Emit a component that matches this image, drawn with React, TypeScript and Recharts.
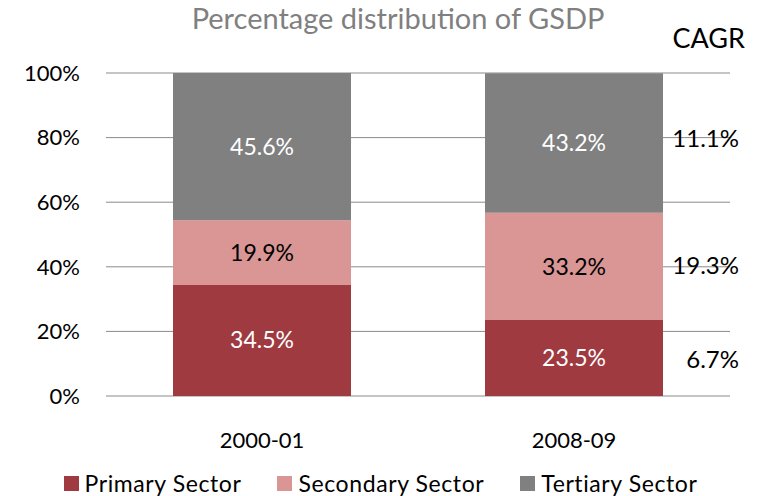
import React from 'react';
import { BarChart, Bar, XAxis, YAxis, CartesianGrid, Legend, LabelList } from 'recharts';

const categories = ['2000-01', '2008-09'];
const primaryShare = [34.5, 23.5];
const secondaryShare = [19.9, 33.2];
const tertiaryShare = [45.6, 43.2];
const cagrPrimary = 6.7;
const cagrSecondary = 19.3;
const cagrTertiary = 11.1;
const yTicks = [0, 20, 40, 60, 80, 100];

const seriesNames = ['Primary Sector', 'Secondary Sector', 'Tertiary Sector'];
const COLORS = ['#9E3A40', '#D99694', '#808080'];
const FONT = 'Lato, "Open Sans", sans-serif';

const data = categories.map((c, i) => ({
  name: c,
  primary: primaryShare[i],
  secondary: secondaryShare[i],
  tertiary: tertiaryShare[i],
}));

const makeCagrLabel = (val: number, dy: number) => (props: any) => {
  const { x, y, width, height, index } = props;
  if (index !== 1) return null;
  return (
    <text
      x={Number(x) + Number(width) + 76}
      y={Number(y) + Number(height) / 2 + dy}
      textAnchor="end"
      dominantBaseline="central"
      fill="#000"
      fontSize={24}
      fontFamily={FONT}
    >
      {`${val}%`}
    </text>
  );
};

const renderLegend = (props: any) => {
  const payload = props.payload || [];
  return (
    <div
      style={{
        display: 'flex',
        justifyContent: 'center',
        alignItems: 'center',
        height: 26,
        lineHeight: '26px',
        fontFamily: FONT,
        fontSize: 23,
        color: '#000',
        paddingLeft: 31,
      }}
    >
      {payload.map((p: any, i: number) => (
        <div key={i} style={{ display: 'flex', alignItems: 'center', marginRight: i < payload.length - 1 ? 36 : 0 }}>
          <span style={{ display: 'inline-block', width: 15, height: 15, background: p.color, marginRight: 6 }} />
          <span style={{ letterSpacing: 0.6 }}>{p.value}</span>
        </div>
      ))}
    </div>
  );
};

export default function App() {
  return (
    <div style={{ position: 'absolute', left: 0, top: 0 }}>
      <BarChart
        width={761}
        height={496}
        data={data}
        margin={{ top: 73, right: 31, left: 0, bottom: 0 }}
        style={{ fontFamily: FONT }}
      >
        <text x={398} y={29} textAnchor="middle" fill="#808080" fontSize={29} fontFamily={FONT}>
          Percentage distribution of GSDP
        </text>
        <text x={745} y={48} textAnchor="end" fill="#000" fontSize={27} fontFamily={FONT}>
          CAGR
        </text>
        <CartesianGrid vertical={false} stroke="#8a8a8a" strokeWidth={1} />
        <XAxis
          dataKey="name"
          axisLine={false}
          tickLine={false}
          tickSize={0}
          tickMargin={36}
          height={74}
          tick={{ fill: '#000', fontSize: 22, fontFamily: FONT }}
        />
        <YAxis
          width={106}
          domain={[0, 100]}
          ticks={yTicks}
          axisLine={false}
          tickLine={false}
          tickSize={0}
          tickMargin={26}
          tickFormatter={(v: number) => `${v}%`}
          tick={{ fill: '#000', fontSize: 22, fontFamily: FONT }}
        />
        <Legend verticalAlign="bottom" content={renderLegend} />
        <Bar dataKey="primary" name={seriesNames[0]} stackId="a" fill={COLORS[0]} barSize={178} isAnimationActive={false}>
          <LabelList dataKey="primary" position="center" fill="#ffffff" fontSize={23} fontFamily={FONT} formatter={(v: any) => `${v}%`} />
          <LabelList dataKey="primary" content={makeCagrLabel(cagrPrimary, 0)} />
        </Bar>
        <Bar dataKey="secondary" name={seriesNames[1]} stackId="a" fill={COLORS[1]} barSize={178} isAnimationActive={false}>
          <LabelList dataKey="secondary" position="center" fill="#000000" fontSize={23} fontFamily={FONT} formatter={(v: any) => `${v}%`} />
          <LabelList dataKey="secondary" content={makeCagrLabel(cagrSecondary, -2)} />
        </Bar>
        <Bar dataKey="tertiary" name={seriesNames[2]} stackId="a" fill={COLORS[2]} barSize={178} isAnimationActive={false}>
          <LabelList dataKey="tertiary" position="center" fill="#ffffff" fontSize={23} fontFamily={FONT} formatter={(v: any) => `${v}%`} />
          <LabelList dataKey="tertiary" content={makeCagrLabel(cagrTertiary, -6)} />
        </Bar>
      </BarChart>
    </div>
  );
}
